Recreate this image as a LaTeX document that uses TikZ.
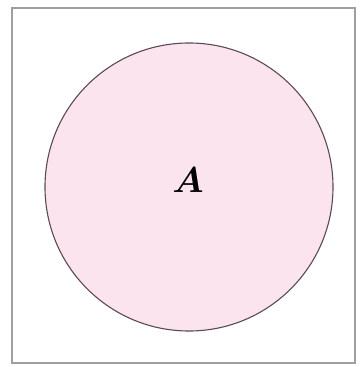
\documentclass[tikz,border=0pt]{standalone}
\usepackage{amsmath}
\usepackage{amssymb}
\usepackage{bm}
\usepackage{xcolor}
\definecolor{setpink}{HTML}{FCE4EE}
\definecolor{setedge}{HTML}{5A4A55}
\begin{document}
\begin{tikzpicture}[x=1pt,y=1pt]
                % Universal set with one set inside
                \useasboundingbox (0,0) rectangle (364,367);
                \draw[gray!75,line width=1.3pt] (12,4) rectangle (355,359);
                \draw[setedge,line width=1.1pt,fill=setpink] (189,180) circle (144);
                
                \node[scale=3.6] (setA) at (188,187) {$\bm{A}$};
            \end{tikzpicture}
\end{document}
